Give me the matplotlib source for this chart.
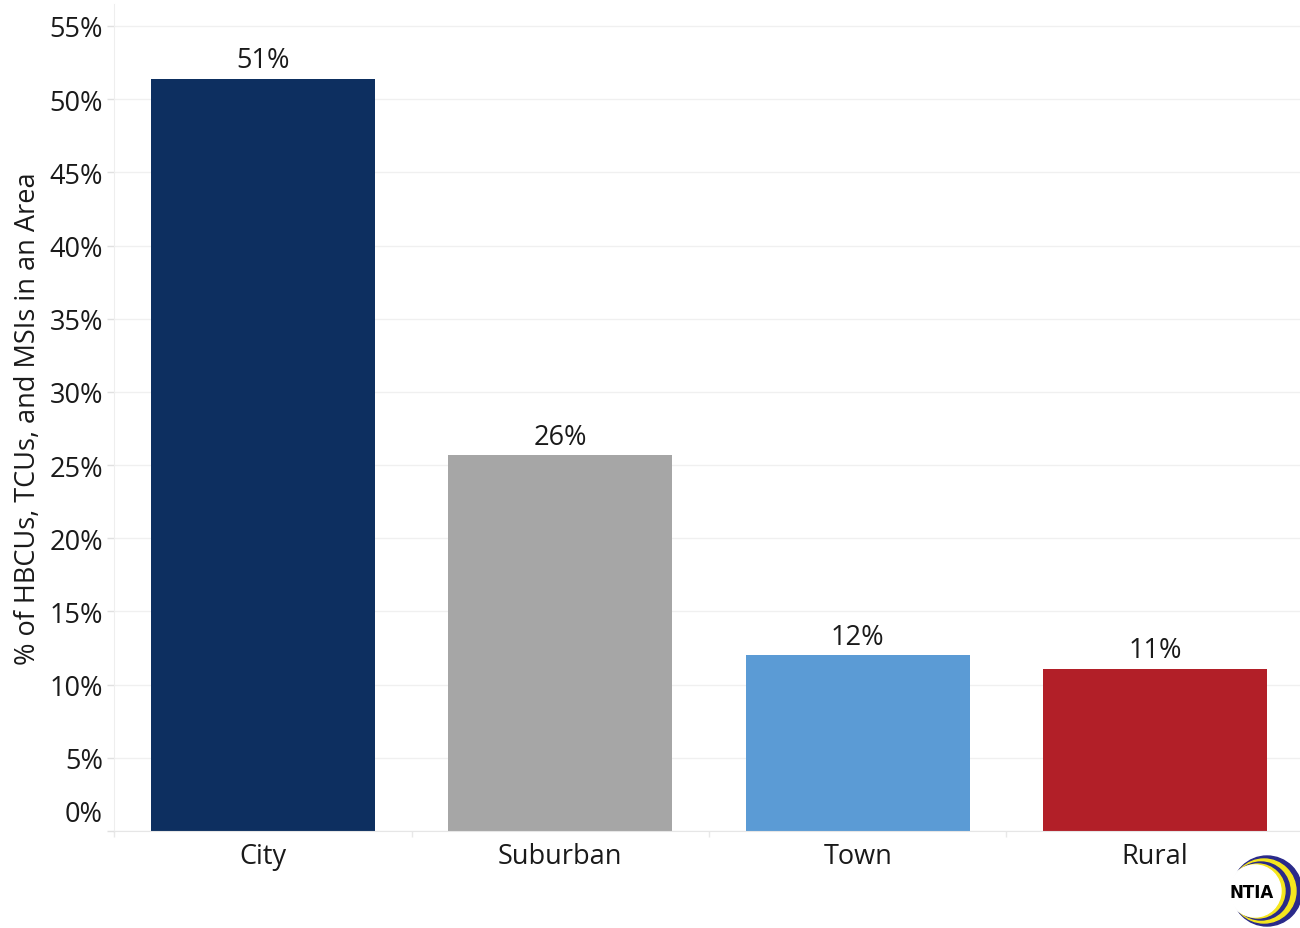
import matplotlib
matplotlib.use("Agg")
import matplotlib.pyplot as plt
from matplotlib.patches import Circle
import matplotlib.transforms as mtransforms

categories = ["City", "Suburban", "Town", "Rural"]
values = [51.4, 25.7, 12.0, 11.1]
value_labels = ["51%", "26%", "12%", "11%"]
colors = ["#0d2f60", "#a6a6a6", "#5b9bd5", "#b21f28"]
yticks = [0, 5, 10, 15, 20, 25, 30, 35, 40, 45, 50, 55]
ytick_labels = [f"{t}%" for t in yticks]

plt.rcParams['font.family'] = ['Open Sans', 'DejaVu Sans']
txt = "#1a1a1a"
fs = 19.5

W, H = 1300, 929
fig = plt.figure(figsize=(W/100, H/100), dpi=100)
ax = fig.add_axes([114/W, 1-832/H, (1304-114)/W, (832-5)/H])

x = list(range(len(categories)))
bars = ax.bar(x, values, width=0.753, color=colors, zorder=2)
for xi, v, lab in zip(x, values, value_labels):
    ax.annotate(lab, (xi, v), xytext=(0, 3), textcoords="offset points",
                ha="center", va="bottom", fontsize=fs, color=txt)

ax.set_xlim(-0.5, 3.5)
ax.set_ylim(0, 56.5)
ax.set_yticks(yticks)
ax.set_yticklabels(ytick_labels, fontsize=fs, color=txt)
ax.set_xticks(x)
ax.set_xticklabels(categories, fontsize=fs, color=txt)
ax.set_xticks([-0.5, 0.5, 1.5, 2.5], minor=True)
ax.tick_params(axis="x", which="major", length=0, pad=8)
ax.tick_params(axis="x", which="minor", length=4.5, color="#e8e8e8", width=1)
ax.tick_params(axis="y", length=5, color="#e0e0e0", width=1, pad=3)

# Shift 0% label up (as in reference)
lbl0 = ax.get_yticklabels()[0]
lbl0.set_transform(lbl0.get_transform() + mtransforms.ScaledTranslation(0, 20/100, fig.dpi_scale_trans))

ax.yaxis.grid(True, color="#f0f0f0", linewidth=1, zorder=0)
ax.set_axisbelow(True)
for s in ["top", "right"]:
    ax.spines[s].set_visible(False)
ax.spines["left"].set_color("#eeeeee")
ax.spines["bottom"].set_color("#e6e6e6")

ax.set_ylabel("% of HBCUs, TCUs, and MSIs in an Area", fontsize=fs, color=txt, labelpad=5)

# NTIA logo approximation
lax = fig.add_axes([1228/W, 0, 72/W, 74/H])
lax.set_xlim(0, 72)
lax.set_ylim(0, 74)
lax.set_aspect("equal")
lax.axis("off")
cy = 37
lax.add_patch(Circle((39, cy), 35, color="#2a2a8a"))
lax.add_patch(Circle((36, cy), 32, color="#f5e61e"))
lax.add_patch(Circle((33, cy), 29, color="#2a2a8a"))
lax.add_patch(Circle((30, cy), 27, color="#f5e61e"))
lax.add_patch(Circle((27, cy), 26, color="white"))
lax.text(24, cy - 1, "NTIA", ha="center", va="center", fontsize=12,
         fontweight="bold", color="black", family="DejaVu Sans")

fig.savefig("out.png", dpi=100)
